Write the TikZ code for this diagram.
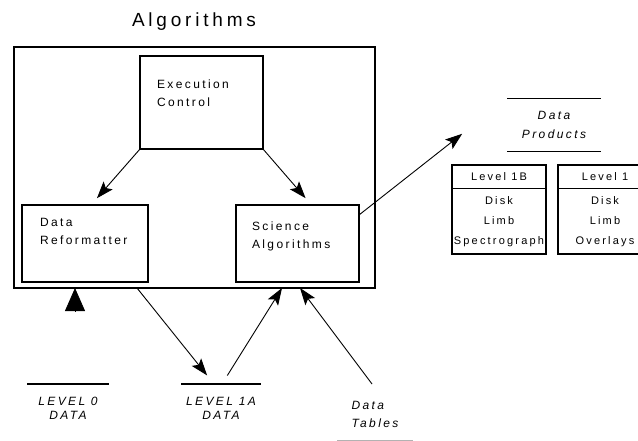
\documentclass[tikz,border=0pt]{standalone}
\usepackage{fontspec}
\setmainfont{Liberation Sans}[LetterSpace=20]
\usetikzlibrary{arrows.meta}
\usetikzlibrary{shapes.multipart}

\begin{document}
\begin{tikzpicture}
				[x=1pt,y=-1pt,
				every node/.style={inner sep=0pt,outer sep=0pt},
				box/.style={draw,line width=1.6pt,anchor=north west},
				boxtext/.style={anchor=north west,align=left,font=\fontsize{12}{18}\selectfont},
				store/.style={align=center,font=\fontsize{12}{14}\selectfont\itshape},
				level/.style={draw,line width=1.4pt,anchor=north west,rectangle split,rectangle split parts=2,
					minimum width=94pt,inner ysep=7pt,align=center,font=\fontsize{11}{20}\selectfont},
				flow/.style={line width=0.9pt,-{Stealth[length=17pt,width=12pt,inset=3.5pt]}}]

				\useasboundingbox (0,0) rectangle (638,441);

				\node[font=\fontsize{19}{22}\selectfont] (T) at (194,22) {Algorithms};
				\node[box,minimum width=361pt,minimum height=241pt] (A) at (14,47) {};

				\node[box,minimum width=123pt,minimum height=93pt] (E) at (140,56) {};
				\node[boxtext] (Et) at ([xshift=17pt,yshift=-24pt]E.north west) {Execution\\Control};
				\node[box,minimum width=126pt,minimum height=77pt] (R) at (22,205) {};
				\node[boxtext] (Rt) at ([xshift=18pt,yshift=-13pt]R.north west) {Data\\Reformatter};
				\node[box,minimum width=123pt,minimum height=77pt] (S) at (236,205) {};
				\node[boxtext] (St) at ([xshift=16pt,yshift=-17pt]S.north west) {Science\\Algorithms};

				\node[store,font=\fontsize{12}{19}\selectfont\itshape,minimum width=94pt,minimum height=53pt] (P) at (554,125) {Data\\Products};
				\draw[line width=1.2pt] (P.north west) -- (P.north east) (P.south west) -- (P.south east);

				\node[level] (B) at (452,165) {Level 1B \nodepart{two} Disk\\Limb\\Spectrograph};
				\node[level] (L) at (558,165) {Level 1 \nodepart{two} Disk\\Limb\\Overlays};

				\node[store,minimum width=82pt,minimum height=48pt] (Z) at (68,408) {LEVEL 0\\DATA};
				\draw[line width=1.2pt] (Z.north west) -- (Z.north east);
				\node[store,minimum width=80pt,minimum height=48pt] (O) at (221,408) {LEVEL 1A\\DATA};
				\draw[line width=1.2pt] (O.north west) -- (O.north east);
				\node[store,align=left,font=\fontsize{12}{18}\selectfont\itshape,minimum width=76pt,minimum height=52pt] (D) at (375,414) {Data\\Tables};
				\draw[black!30,line width=0.8pt] (D.south west) -- (D.south east);

				\draw[flow,shorten >=9pt] (E.south west) -- ([xshift=6pt]R.north);
				\draw[flow,shorten >=9pt] (E.south east) -- ([xshift=14pt]S.north);
				\draw[flow,shorten >=57pt] ([yshift=-10pt]S.north east) -- (P.north west);

				\coordinate (z) at (75,311);
				\draw[line width=0.8pt,-{Triangle[length=23pt,width=20pt]}] (z) -- (z |- A.south);
				\draw[flow,shorten >=11pt] ([xshift=-57.5pt]A.south) -- ([xshift=-7pt]O.north);
				\draw[flow,shorten <=10pt] ([xshift=1pt]O.north) -- ([xshift=87.5pt]A.south);
				\draw[flow,shorten <=5pt] (D.north) -- ([xshift=105.5pt]A.south);
			\end{tikzpicture}
\end{document}
